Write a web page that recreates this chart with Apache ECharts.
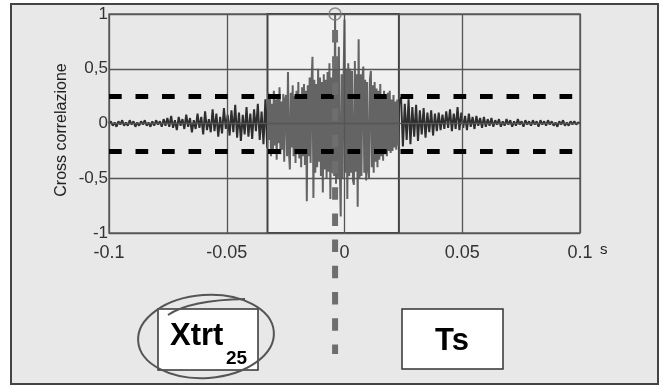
<!DOCTYPE html>
<html>
<head>
<meta charset="utf-8">
<script src="https://cdn.jsdelivr.net/npm/echarts@6/dist/echarts.min.js"></script>
<style>
  html, body { margin: 0; padding: 0; background: #ffffff; }
  #frame { position: absolute; left: 10px; top: 3px; width: 645px; height: 378px; border: 2px solid #444; background: #e8e8e8; }
  #chart { position: absolute; left: 0; top: 0; width: 663px; height: 385px; }
</style>
</head>
<body>
<div id="frame"></div>
<div id="chart"></div>
<script>
// ---- data ----
// left tail: lags -0.1 .. -0.0336 s, sampled every 0.0008 s
const leftTailStart = -0.1, leftTailStep = 0.0008;
const leftTail = [
  0.00, 0.02, -0.02, 0.01, -0.03, 0.02, -0.01, 0.03, -0.02, 0.01,
  -0.02, 0.03, -0.01, 0.02, -0.03, 0.01, -0.02, 0.02, -0.01, 0.03,
  -0.02, 0.01, -0.03, 0.02, -0.02, 0.03, -0.01, 0.02, -0.03, 0.04,
  -0.02,
  0.05, -0.03, 0.07, -0.04, 0.03, -0.06, 0.06, -0.02, 0.04, -0.05,
  0.08, -0.03, 0.05, -0.08, 0.03, -0.05, 0.09, -0.04, 0.06, -0.10,
  0.11, -0.06, 0.04, -0.08, 0.13,
  -0.07, 0.09, -0.12, 0.06, -0.09, 0.14, -0.05, 0.08, -0.11, 0.12,
  -0.08, 0.17, -0.13, 0.10, -0.16, 0.08, -0.10, 0.15, -0.12, 0.09,
  -0.14, 0.13, -0.07, 0.18, -0.15, 0.11, -0.19, 0.22
];
// analysis window: lags -0.0328 .. 0.0232 s, sampled every 0.0004 s
const windowStart = -0.0328, windowStep = 0.0004;
const windowPart = [
  -0.22, 0.28, -0.15, 0.24, -0.30, 0.18, -0.26, 0.30, -0.20, 0.22,
  -0.33, 0.25, -0.18, 0.33, -0.28, 0.20, -0.24, 0.27, -0.35, 0.22,
  0.26, -0.30, 0.47, -0.25, -0.42, 0.28, -0.22, 0.35, -0.30, 0.25,
  -0.36, 0.30, -0.28, 0.38, -0.32, 0.26, -0.40, 0.33, -0.30, 0.36,
  -0.38, 0.30, -0.71, 0.35, -0.30, 0.42, -0.36, 0.38, 0.61, -0.68,
  0.40, -0.45, 0.36, -0.40, 0.50, -0.35, 0.42, -0.48, 0.38, -0.63,
  0.45, -0.42, 0.40, -0.50, 0.47, -0.44, 0.55, -0.69, 0.42, -0.45,
  0.50, -0.48, 1.00, -0.55, 0.60, -0.50, 0.70, -0.40, -0.85, 0.45,
  -0.50, 0.40, 0.95, -0.45, 0.50, -0.69, 0.55, -0.48, 0.50, -0.45,
  0.48, -0.52, -0.56, 0.57, -0.44, 0.45, -0.76, 0.77, -0.50, 0.45,
  -0.48, 0.42, 0.52, -0.45, 0.40, -0.52, 0.38, -0.42, -0.50, 0.40,
  0.48, -0.40, 0.35, -0.45, 0.38, -0.35, 0.32, -0.40, 0.30, -0.33,
  0.36, -0.30, 0.25, -0.34, 0.30, -0.28, 0.26, -0.30, 0.28, -0.25,
  0.30, -0.27, 0.22, -0.25, 0.26, -0.22, 0.20, -0.24, 0.22, -0.20,
  0.18
];
// right tail: lags 0.024 .. 0.1 s, sampled every 0.0008 s
const rightTailStart = 0.024, rightTailStep = 0.0008;
const rightTail = [
  0.24, -0.21, 0.18, -0.15, 0.22, -0.19, 0.15, -0.12, 0.17, -0.16,
  0.12, -0.10, 0.14, -0.13, 0.10, -0.08, 0.12, -0.11, 0.09, -0.07,
  0.10,
  -0.06, 0.08, -0.05, 0.11, -0.04, 0.13, -0.07, 0.09, -0.05, 0.15,
  -0.06, 0.10, -0.04, 0.07, -0.06, 0.09, -0.03, 0.06, -0.05, 0.07,
  -0.02, 0.05, -0.04, 0.06, -0.03,
  0.04, -0.02, 0.05, -0.03, 0.03, -0.01, 0.04, -0.03, 0.02, -0.02,
  0.04, -0.01, 0.03, -0.03, 0.02, -0.02, 0.04, -0.01, 0.02, -0.03,
  0.03, -0.01, 0.02, -0.02, 0.03, -0.01, 0.02, -0.03, 0.03, -0.01,
  0.02, -0.02, 0.03, -0.01, 0.02, -0.02, 0.01, -0.03, 0.02, -0.01,
  0.03, -0.02, 0.01, -0.02, 0.02, -0.01, 0.02, -0.01, 0.01, 0.00
];
const xTicks = [-0.1, -0.05, 0, 0.05, 0.1];
const yTicks = [-1, -0.5, 0, 0.5, 1];
const thresholds = [0.25, -0.25];
const windowRange = [-0.0327, 0.0231];
const axisTitles = ['Cross correlazione', 's'];
const boxLabels = ['Xtrt', '25', 'Ts'];

// ---- build ----
const toPoints = (start, step, vals) => vals.map((v, i) => [+(start + i * step).toFixed(5), v]);
const seriesData = [].concat(
  toPoints(leftTailStart, leftTailStep, leftTail),
  toPoints(windowStart, windowStep, windowPart),
  toPoints(rightTailStart, rightTailStep, rightTail)
);
let peak = seriesData[0];
seriesData.forEach(p => { if (p[1] > peak[1]) peak = p; });

const FONT = "'Liberation Sans', Arial, sans-serif";
const chart = echarts.init(document.getElementById('chart'), null, { renderer: 'canvas' });

const option = {
  backgroundColor: 'transparent',
  animation: false,
  grid: { left: 109, right: 83, top: 14, bottom: 152, show: true, borderColor: '#666', borderWidth: 1.5, backgroundColor: 'transparent' },
  xAxis: {
    type: 'value', min: xTicks[0], max: xTicks[xTicks.length - 1], interval: 0.05, z: 5,
    axisLine: { show: false }, axisTick: { show: false },
    splitLine: { show: true, lineStyle: { color: '#555', width: 1.3 } },
    axisLabel: { margin: 11, fontSize: 18, color: '#333', fontFamily: FONT, formatter: v => String(+v.toFixed(3)) }
  },
  yAxis: {
    type: 'value', min: yTicks[0], max: yTicks[yTicks.length - 1], interval: 0.5, z: 5,
    axisLine: { show: false }, axisTick: { show: false },
    splitLine: { show: true, lineStyle: { color: '#555', width: 1.3 } },
    axisLabel: { margin: 1, fontSize: 17, color: '#333', fontFamily: FONT, formatter: v => String(v).replace('.', ',') }
  },
  visualMap: {
    show: false, type: 'piecewise', seriesIndex: 1, dimension: 0,
    pieces: [{ min: windowRange[0], max: windowRange[1], color: '#646464' }],
    outOfRange: { color: '#2e2e2e' }
  },
  series: [
    {
      type: 'line', data: [], z: 1, silent: true,
      markArea: { silent: true, itemStyle: { color: '#f0f0f0' },
        data: [[{ xAxis: windowRange[0] }, { xAxis: windowRange[1] }]] },
      markLine: { silent: true, symbol: 'none', label: { show: false },
        lineStyle: { color: '#000', width: 5, type: [12.7, 13.8] },
        data: thresholds.map(t => ({ yAxis: t })) }
    },
    {
      type: 'line', data: seriesData, z: 2, showSymbol: false, silent: true,
      lineStyle: { width: 2 }
    },
    {
      type: 'line', data: [], z: 6, silent: true,
      markArea: { silent: true, itemStyle: { color: 'rgba(0,0,0,0)', borderColor: '#444', borderWidth: 2 },
        data: [[{ xAxis: windowRange[0] }, { xAxis: windowRange[1] }]] }
    },
    {
      type: 'scatter', data: [peak], z: 9, silent: true,
      symbol: 'circle', symbolSize: 12,
      itemStyle: { color: 'rgba(0,0,0,0)', borderColor: '#777', borderWidth: 1.6 }
    }
  ]
};
chart.setOption(option);

const pk = chart.convertToPixel({ gridIndex: 0 }, peak);
const pTop = chart.convertToPixel({ gridIndex: 0 }, [peak[0], 1]);
const pEnd = chart.convertToPixel({ gridIndex: 0 }, [xTicks[xTicks.length - 1], yTicks[0]]);
chart.setOption({
  graphic: [
    { type: 'text', z: 21, silent: true, rotation: Math.PI / 2, x: 62, y: 130,
      style: { text: axisTitles[0], font: "16px " + FONT, fill: '#222', align: 'center', verticalAlign: 'middle' } },
    { type: 'text', z: 21, silent: true,
      style: { text: axisTitles[1], x: pEnd[0] + 20, y: pEnd[1] + 17, font: "15px " + FONT, fill: '#222', align: 'left', verticalAlign: 'middle' } },
    { type: 'line', z: 20, silent: true,
      shape: { x1: pk[0], y1: pTop[1] + 16, x2: pk[0], y2: 354 },
      style: { stroke: '#6e6e6e', lineWidth: 6, lineDash: [12.5, 13.7] } },
    { type: 'rect', z: 20, silent: true, shape: { x: 158, y: 309, width: 100, height: 61 },
      style: { fill: '#fff', stroke: '#333', lineWidth: 1.5 } },
    { type: 'rect', z: 20, silent: true, shape: { x: 402, y: 309, width: 101, height: 60 },
      style: { fill: '#fff', stroke: '#333', lineWidth: 1.5 } },
    { type: 'text', z: 21, silent: true,
      style: { text: boxLabels[0], x: 170, y: 336, font: "bold 31px " + FONT, fill: '#000', align: 'left', verticalAlign: 'middle' } },
    { type: 'text', z: 21, silent: true,
      style: { text: boxLabels[1], x: 226, y: 359, font: "bold 19px " + FONT, fill: '#000', align: 'left', verticalAlign: 'middle' } },
    { type: 'text', z: 21, silent: true,
      style: { text: boxLabels[2], x: 452, y: 341, font: "bold 31px " + FONT, fill: '#000', align: 'center', verticalAlign: 'middle' } },
    { type: 'ellipse', z: 22, silent: true, originX: 206, originY: 336.5, rotation: 0.07,
      shape: { cx: 206, cy: 336.5, rx: 68, ry: 41.5 },
      style: { fill: 'none', stroke: '#555', lineWidth: 2 } },
    { type: 'bezierCurve', z: 22, silent: true,
      shape: { x1: 168, y1: 315, cpx1: 190, cpy1: 300, x2: 245, y2: 299 },
      style: { fill: 'none', stroke: '#555', lineWidth: 2 } }
  ]
});
</script>
</body>
</html>
